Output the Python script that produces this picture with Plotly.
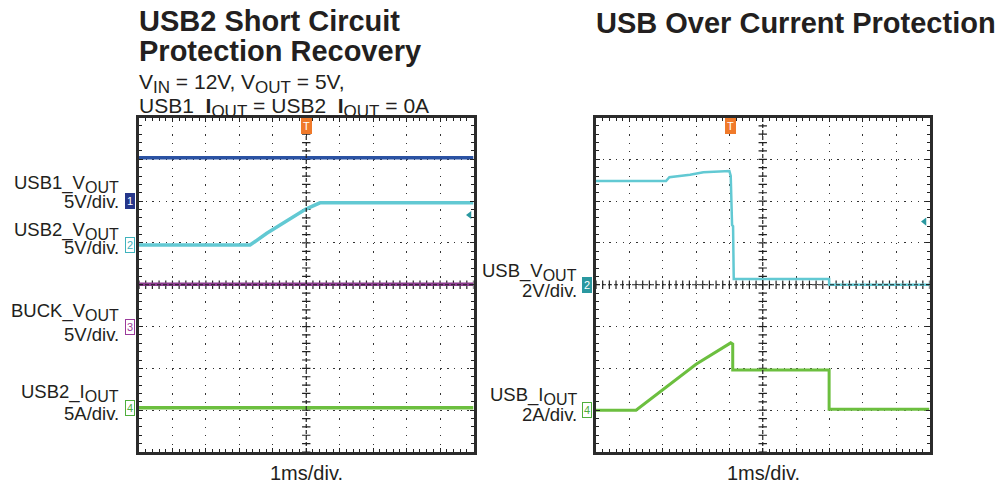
import plotly.graph_objects as go

W, H = 1006, 487

# scope traces, time in divisions (1ms/div), level in vertical divisions
usb1_vout_t = [0, 10]
usb1_vout = [7.04, 7.04]
usb2_vout_t = [0, 3.32, 3.82, 4.99, 5.41, 10]
usb2_vout = [4.95, 4.95, 5.23, 5.81, 5.96, 5.96]
buck_vout_t = [0, 10]
buck_vout = [4.01, 4.01]
usb2_iout_t = [0, 10]
usb2_iout = [1.06, 1.06]

ocp_vout_t = [0, 2.1, 2.2, 2.82, 3.22, 4.0, 4.04, 4.06, 4.08, 4.11, 4.12, 4.13, 6.99, 6.99, 10]
ocp_vout = [6.48, 6.48, 6.57, 6.63, 6.69, 6.72, 6.6, 6.2, 5.43, 5.4, 4.2, 4.14, 4.14, 4.0, 4.0]
ocp_iout_t = [0, 1.2, 3.0, 4.04, 4.1, 4.1, 6.99, 6.99, 10]
ocp_iout = [1.0, 1.0, 2.1, 2.61, 2.58, 1.96, 1.96, 1.02, 1.02]

# channel ground markers (label, level, colour, filled)
left_markers = [("1", 6.0, "#25368a", True), ("2", 4.95, "#3fb3bd", False),
                ("3", 3.0, "#9b3b9b", False), ("4", 1.05, "#4fae3c", False)]
right_markers = [("2", 4.0, "#2a98a0", True), ("4", 1.0, "#4fae3c", False)]
trigger_pos = [5.0, 4.04]

CYAN = "#62c9d3"
GREEN = "#6cbf3f"
TXT = "#231f20"
FONT = "Liberation Sans, Arial, sans-serif"


def py(y):
    return 1 - y / H


def px(x):
    return x / W


def sub(s, size=16):
    return "<sub><span style='font-size:%spx'>%s</span></sub>" % (size, s)


def scope_axis(domain, n, dash, anchor):
    return dict(domain=domain, range=[0, n], anchor=anchor, dtick=1, showticklabels=False,
                ticks="inside", ticklen=4, tickcolor="#222", tickwidth=1,
                showline=True, linewidth=3, linecolor="#2b2b2b", mirror="ticks",
                showgrid=True, gridcolor="#333", gridwidth=1.3, griddash=dash, zeroline=False,
                minor=dict(ticks="inside", dtick=0.2, ticklen=3, tickcolor="#222", showgrid=False),
                fixedrange=True)


fig = go.Figure()

traces = [
    ("x", "y", usb1_vout_t, usb1_vout, "#2a52a3", 3.5),
    ("x", "y", usb2_vout_t, usb2_vout, CYAN, 3.5),
    ("x", "y", buck_vout_t, buck_vout, "#8c3c8f", 3.5),
    ("x", "y", usb2_iout_t, usb2_iout, GREEN, 3.5),
    ("x2", "y2", ocp_vout_t, ocp_vout, CYAN, 2.5),
    ("x2", "y2", ocp_iout_t, ocp_iout, GREEN, 3),
]

# center crosshair ticks
ticks_y = [i * 0.2 for i in range(41)]
ticks_x = [i * 0.2 for i in range(51)]
for xa, ya in [("x", "y"), ("x2", "y2")]:
    fig.add_trace(go.Scatter(x=[5] * len(ticks_y), y=ticks_y, xaxis=xa, yaxis=ya, mode="markers",
                             marker=dict(symbol="line-ew", size=6, line=dict(width=1.2, color="#222")),
                             hoverinfo="skip"))
    fig.add_trace(go.Scatter(x=ticks_x, y=[4] * len(ticks_x), xaxis=xa, yaxis=ya, mode="markers",
                             marker=dict(symbol="line-ns", size=6, line=dict(width=1.2, color="#222")),
                             hoverinfo="skip"))

for xa, ya, t, v, c, w in traces:
    fig.add_trace(go.Scatter(x=t, y=v, xaxis=xa, yaxis=ya, mode="lines",
                             line=dict(color=c, width=w), hoverinfo="skip"))

shapes = []
for xr, yr in [("x", "y"), ("x2", "y2")]:
    shapes.append(dict(type="line", xref=xr, yref=yr, x0=5, x1=5, y0=0, y1=8,
                       line=dict(color="#222", width=1.2, dash="4px,2px")))
    shapes.append(dict(type="line", xref=xr, yref=yr, x0=0, x1=10, y0=4, y1=4,
                       line=dict(color="#222", width=1.2, dash="4px,2px")))

ann = []


def text(x, y, s, size=18.5, anchor="left", bold=False, color=TXT):
    if bold:
        s = "<b>" + s + "</b>"
    ann.append(dict(x=px(x), y=py(y), xref="paper", yref="paper", text=s, showarrow=False,
                    xanchor=anchor, yanchor="middle", font=dict(family=FONT, size=size, color=color)))


text(137, 21, "USB2 Short Circuit", size=29, bold=True)
text(137, 51, "Protection Recovery", size=29, bold=True)
text(594, 23, "USB Over Current Protection", size=29, bold=True)
text(137, 83, "V" + sub("IN", 17) + " = 12V, V" + sub("OUT", 17) + " = 5V,", size=21)
text(137, 108, "USB1_<b>I</b>" + sub("OUT", 17) + " = USB2_<b>I</b>" + sub("OUT", 17) + " = 0A", size=21)

text(121, 184, "USB1_V" + sub("OUT"), anchor="right")
text(121, 201, "5V/div.", anchor="right")
text(121, 231, "USB2_V" + sub("OUT"), anchor="right")
text(121, 247, "5V/div.", anchor="right")
text(121, 312, "BUCK_V" + sub("OUT"), anchor="right")
text(121, 334, "5V/div.", anchor="right")
text(121, 393, "USB2_I" + sub("OUT"), anchor="right")
text(121, 413, "5A/div.", anchor="right")

text(579, 272, "USB_V" + sub("OUT"), anchor="right")
text(579, 290, "2V/div.", anchor="right")
text(579, 396, "USB_I" + sub("OUT"), anchor="right")
text(579, 414, "2A/div.", anchor="right")

text(306, 473, "1ms/div.", size=20, anchor="center")
text(763, 473, "1ms/div.", size=20, anchor="center")

for markers, left, yr in [(left_markers, 135, "y"), (right_markers, 592, "y2")]:
    for lab, lvl, col, filled in markers:
        ann.append(dict(x=px(left), y=lvl, xref="paper", yref=yr, text=lab, showarrow=False,
                        xanchor="right", yanchor="middle", borderpad=1,
                        bgcolor=col if filled else "white", bordercolor=col, borderwidth=1,
                        font=dict(family=FONT, size=11, color="white" if filled else col)))

for xr, tp in [("x", trigger_pos[0]), ("x2", trigger_pos[1])]:
    ann.append(dict(x=tp, y=py(126), xref=xr, yref="paper", text="T", showarrow=False,
                    xanchor="center", yanchor="middle", borderpad=1, bgcolor="#f07a2a",
                    bordercolor="#f07a2a", font=dict(family=FONT, size=11, color="white")))

# reference level arrows on right edge
fig.add_trace(go.Scatter(x=[9.88], y=[5.67], xaxis="x", yaxis="y", mode="markers",
                         marker=dict(symbol="triangle-left", size=7, color="#2a98a0"), hoverinfo="skip"))
fig.add_trace(go.Scatter(x=[9.85], y=[5.51], xaxis="x2", yaxis="y2", mode="markers",
                         marker=dict(symbol="triangle-left", size=7, color="#2a98a0"), hoverinfo="skip"))

yd = [py(452), py(117.5)]
fig.update_layout(
    width=W, height=H, margin=dict(l=0, r=0, t=0, b=0),
    paper_bgcolor="white", plot_bgcolor="white", showlegend=False,
    xaxis=scope_axis([px(139), px(473.5)], 10, "1.3px,7.06px", "y"),
    yaxis=scope_axis(yd, 8, "1.3px,5.4px", "x"),
    xaxis2=scope_axis([px(596), px(929.5)], 10, "1.3px,7.06px", "y2"),
    yaxis2=scope_axis(yd, 8, "1.3px,5.4px", "x2"),
    shapes=shapes, annotations=ann,
)

fig.write_html("out.html", config={"displayModeBar": False},
               post_script="document.body.style.margin='0';")
